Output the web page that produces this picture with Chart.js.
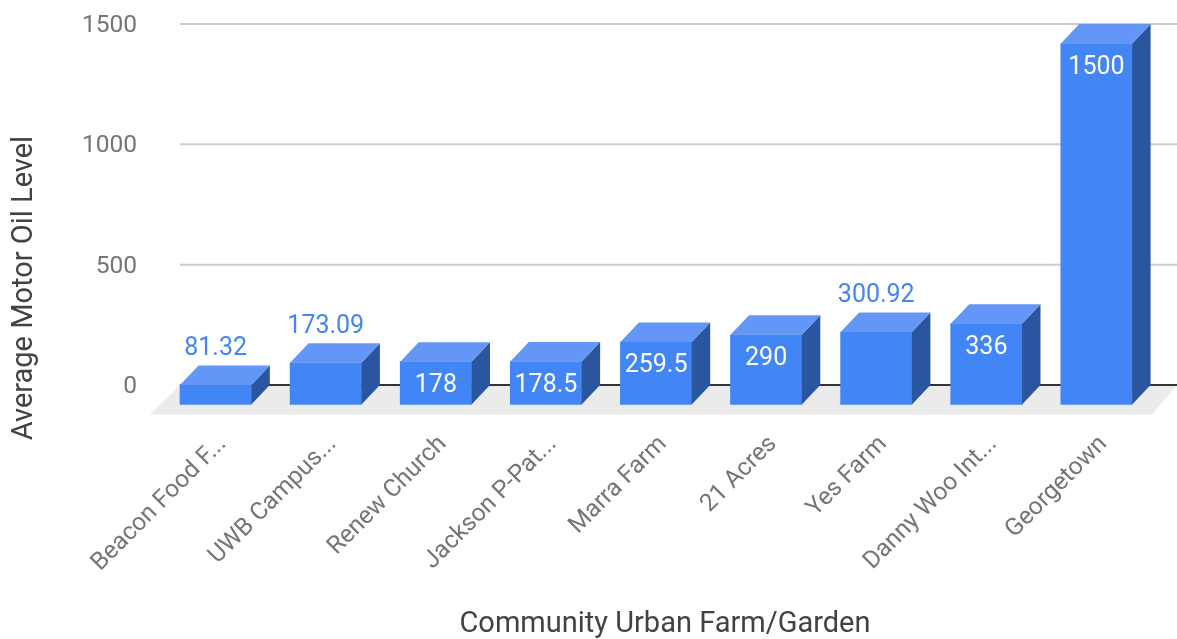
<!DOCTYPE html>
<html lang="en">
<head>
    <meta charset="UTF-8">
    <title>Average Motor Oil Level</title>
    <script src="https://cdn.jsdelivr.net/npm/chart.js"></script>
    <style>
body {
    margin: 0;
    padding: 0;
    background-color: white;
}
    </style>
</head>
<body>
    <canvas id="chart" width="1177" height="639"></canvas>

    <script>
const farms = ['Beacon Food F...', 'UWB Campus...', 'Renew Church', 'Jackson P-Pat...', 'Marra Farm', '21 Acres', 'Yes Farm', 'Danny Woo Int...', 'Georgetown'];
const oilLevels = [81.32, 173.09, 178, 178.5, 259.5, 290, 300.92, 336, 1500];
const yTicks = [0, 500, 1000, 1500];
const xTitle = 'Community Urban Farm/Garden';
const yTitle = 'Average Motor Oil Level';

const DEPTH_X = 18.5;
const DEPTH_Y = 19.5;
const FONT = 'Roboto';

// the box look: floor and grid behind, front face pushed down, side and top added
const box3d = {
    id: 'box3d',
    beforeDatasetsDraw(chart) {
        const { ctx, scales } = chart;
        const y0 = scales.y.getPixelForValue(0);
        const left = 180, right = 1177;

        ctx.save();
        ctx.fillStyle = '#ebebeb';
        ctx.beginPath();
        ctx.moveTo(150, y0 + 29.5);
        ctx.lineTo(left, y0);
        ctx.lineTo(right, y0);
        ctx.lineTo(1152, y0 + 29.5);
        ctx.closePath();
        ctx.fill();

        yTicks.forEach(function(t) {
            const py = scales.y.getPixelForValue(t);
            ctx.strokeStyle = t === 0 ? '#333333' : '#cccccc';
            ctx.lineWidth = 2;
            ctx.beginPath();
            ctx.moveTo(left, py);
            ctx.lineTo(right, py);
            ctx.stroke();
        });
        ctx.restore();

        ctx.save();
        ctx.translate(0, DEPTH_Y);
    },
    afterDatasetsDraw(chart) {
        const { ctx } = chart;
        ctx.restore();

        chart.getDatasetMeta(0).data.forEach(function(bar) {
            const x1 = bar.x - bar.width / 2;
            const x2 = bar.x + bar.width / 2;
            const top = bar.y + DEPTH_Y;
            const bottom = bar.base + DEPTH_Y;

            ctx.fillStyle = '#2a56a0';
            ctx.beginPath();
            ctx.moveTo(x2, top);
            ctx.lineTo(x2 + DEPTH_X, top - DEPTH_Y);
            ctx.lineTo(x2 + DEPTH_X, bottom - DEPTH_Y);
            ctx.lineTo(x2, bottom);
            ctx.closePath();
            ctx.fill();

            ctx.fillStyle = '#6396f6';
            ctx.beginPath();
            ctx.moveTo(x1, top);
            ctx.lineTo(x1 + DEPTH_X, top - DEPTH_Y);
            ctx.lineTo(x2 + DEPTH_X, top - DEPTH_Y);
            ctx.lineTo(x2, top);
            ctx.closePath();
            ctx.fill();
        });
    },
    afterDraw(chart) {
        const { ctx } = chart;

        // value labels, the ones with two decimals sit above the box
        ctx.save();
        ctx.font = '25px ' + FONT;
        ctx.textAlign = 'center';
        ctx.textBaseline = 'middle';
        chart.getDatasetMeta(0).data.forEach(function(bar, i) {
            const decimals = (String(oilLevels[i]).split('.')[1] || '').length;
            const top = bar.y + DEPTH_Y;
            if (decimals === 2) {
                ctx.fillStyle = '#4285f4';
                ctx.fillText(String(oilLevels[i]), bar.x, top - DEPTH_Y - 17);
            } else {
                ctx.fillStyle = '#ffffff';
                ctx.fillText(String(oilLevels[i]), bar.x, top + 24);
            }
        });

        // axis titles
        ctx.fillStyle = '#424242';
        ctx.font = '29px ' + FONT;
        ctx.fillText(xTitle, 665, 625);
        ctx.translate(25, 288);
        ctx.rotate(-Math.PI / 2);
        ctx.fillText(yTitle, 0, 0);
        ctx.restore();
    }
};

new Chart(document.getElementById('chart'), {
    type: 'bar',
    data: {
        labels: farms,
        datasets: [{
            label: yTitle,
            data: oilLevels,
            backgroundColor: '#4285f4',
            borderWidth: 0,
            barThickness: 71.3,
            clip: false
        }]
    },
    options: {
        responsive: false,
        animation: false,
        devicePixelRatio: 1,
        layout: {
            padding: { top: 24, right: 25.5 }
        },
        plugins: {
            legend: { display: false },
            tooltip: { enabled: false }
        },
        scales: {
            x: {
                afterFit(scale) { scale.height = 254; },
                grid: { display: false },
                border: { display: false },
                ticks: {
                    autoSkip: false,
                    maxRotation: 45,
                    minRotation: 45,
                    padding: 37,
                    labelOffset: 7,
                    color: '#757575',
                    font: { family: FONT, size: 24.5 }
                }
            },
            y: {
                min: 0,
                max: 1500,
                afterFit(scale) {
                    scale.width = 160.6;
                    // tick padding would otherwise push the plot top down
                    scale.paddingTop = 0;
                    scale.paddingBottom = 0;
                },
                afterBuildTicks(scale) { scale.ticks = yTicks.map(function(v) { return { value: v }; }); },
                grid: { display: false },
                border: { display: false },
                ticks: {
                    padding: 15.5,
                    labelOffset: 2,
                    color: '#757575',
                    font: { family: FONT, size: 24.5 },
                    callback: function(v) { return String(v); }
                }
            }
        }
    },
    plugins: [box3d]
});
    </script>
</body>
</html>
